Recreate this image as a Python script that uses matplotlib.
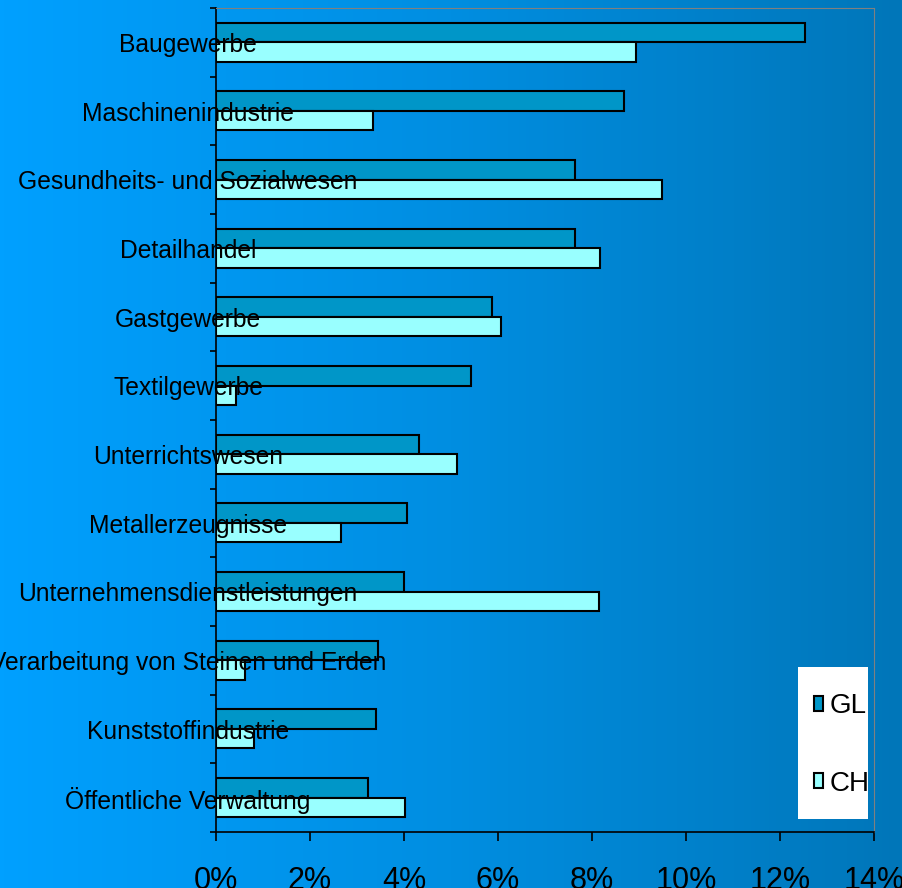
import matplotlib.pyplot as plt
import numpy as np
from matplotlib.patches import Rectangle
from matplotlib.ticker import FuncFormatter
from matplotlib.colors import LinearSegmentedColormap

plt.rcParams['font.family'] = ['Liberation Sans', 'DejaVu Sans']

branchen = ['Baugewerbe', 'Maschinenindustrie', 'Gesundheits- und Sozialwesen',
            'Detailhandel', 'Gastgewerbe', 'Textilgewerbe', 'Unterrichtswesen',
            'Metallerzeugnisse', 'Unternehmensdienstleistungen',
            'Verarbeitung von Steinen und Erden', 'Kunststoffindustrie',
            'Öffentliche Verwaltung']
gl = [12.53, 8.68, 7.64, 7.64, 5.87, 5.43, 4.32, 4.06, 4.0, 3.45, 3.40, 3.23]
ch = [8.94, 3.34, 9.49, 8.17, 6.06, 0.43, 5.13, 2.66, 8.15, 0.62, 0.81, 4.02]
xticks = [0, 2, 4, 6, 8, 10, 12, 14]

fig = plt.figure(figsize=(9.03, 8.88), dpi=100)

# blue gradient background
bg = fig.add_axes([0, 0, 1, 1], zorder=-10)
grad = np.linspace(0, 1, 256).reshape(1, -1)
cmap = LinearSegmentedColormap.from_list('bg', [(0, 160/255, 1.0), (0, 142/255, 225/255), (0, 118/255, 185/255)])
bg.imshow(grad, aspect='auto', cmap=cmap, extent=[0, 1, 0, 1])
bg.axis('off')

ax = fig.add_axes([0.2392, 0.0631, 0.7287, 0.9279])
ax.set_facecolor('none')

y = np.arange(len(branchen))
h = 0.284
ax.barh(y - h / 2, gl, height=h, color='#0096c8', edgecolor='black', linewidth=1.5, label='GL')
ax.barh(y + h / 2, ch, height=h, color='#99ffff', edgecolor='black', linewidth=1.5, label='CH')

ax.set_ylim(len(branchen) - 0.5, -0.5)
ax.set_xlim(0, 14)
ax.set_yticks(np.arange(len(branchen) + 1) - 0.5, labels=[])
ax.set_xticks(xticks)
ax.xaxis.set_major_formatter(FuncFormatter(lambda v, p: f'{v:.0f}%'))
ax.tick_params(axis='x', length=6.5, width=1.2, pad=18, labelsize=22)
ax.tick_params(axis='y', length=4, width=1.2)

for i, name in enumerate(branchen):
    ax.text(-0.0426, i + 0.04, name, transform=ax.get_yaxis_transform(),
            ha='center', va='center', fontsize=17.7, clip_on=False)

ax.spines['top'].set_color('#808080')
ax.spines['right'].set_color('#808080')
ax.spines['left'].set_linewidth(1.2)
ax.spines['bottom'].set_linewidth(1.2)

# legend box
fig.patches.append(Rectangle((798 / 903, 1 - 819 / 888), 70 / 903, 152 / 888,
                             transform=fig.transFigure, facecolor='white',
                             edgecolor='none', zorder=5))
leg = fig.legend(loc='center left', bbox_to_anchor=(814 / 903, 1 - 745 / 888),
                 frameon=False, fontsize=20, handlelength=0.32, handleheight=0.45,
                 handletextpad=0.25, labelspacing=1.85, borderpad=0, borderaxespad=0)
leg.set_zorder(6)

fig.savefig('out.png', dpi=100)
